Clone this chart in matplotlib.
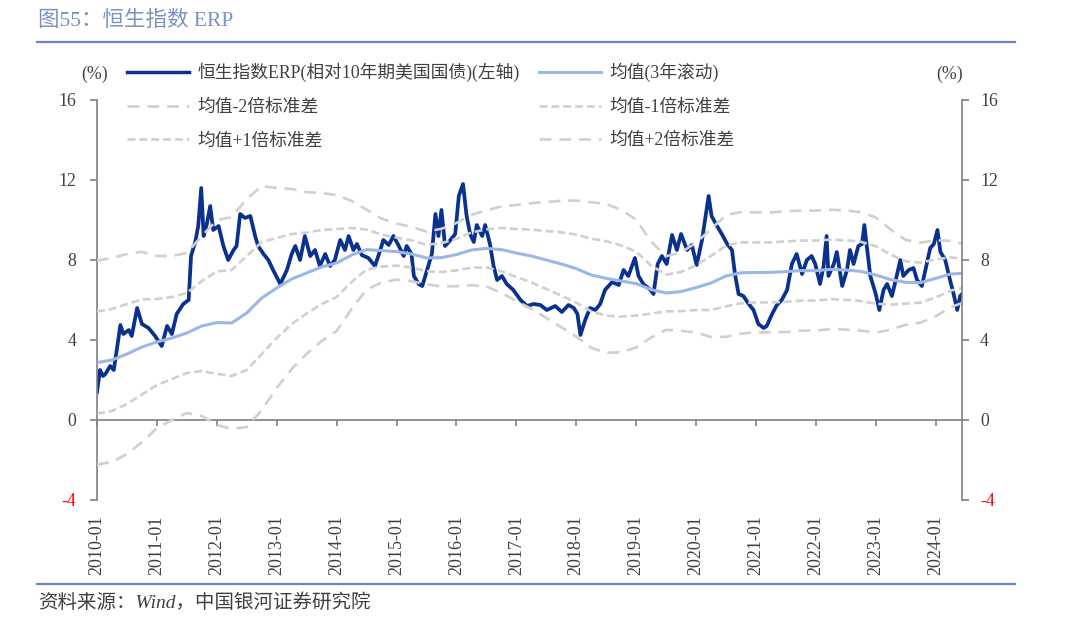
import matplotlib
matplotlib.use("Agg")
import matplotlib.pyplot as plt
from matplotlib.lines import Line2D

plt.rcParams['font.family'] = ['Liberation Serif', 'Noto Sans CJK SC']

# ERP vs 10Y US treasury (decimal years, %)
erp_t = [2010.00, 2010.05, 2010.10, 2010.14, 2010.22, 2010.28, 2010.33, 2010.39, 2010.44, 2010.53,
         2010.58, 2010.67, 2010.75, 2010.86, 2010.97, 2011.08, 2011.17, 2011.25, 2011.33, 2011.44,
         2011.53, 2011.57, 2011.64, 2011.69, 2011.74, 2011.78, 2011.83, 2011.89, 2011.94, 2012.03,
         2012.11, 2012.19, 2012.28, 2012.33, 2012.39, 2012.47, 2012.56, 2012.64, 2012.69, 2012.78,
         2012.86, 2012.94, 2013.06, 2013.17, 2013.25, 2013.31, 2013.39, 2013.47, 2013.56, 2013.64,
         2013.72, 2013.81, 2013.89, 2013.97, 2014.06, 2014.14, 2014.20, 2014.28, 2014.34, 2014.42,
         2014.53, 2014.64, 2014.73, 2014.78, 2014.87, 2014.95, 2015.03, 2015.12, 2015.17, 2015.25,
         2015.29, 2015.37, 2015.43, 2015.51, 2015.59, 2015.65, 2015.70, 2015.75, 2015.81, 2015.90,
         2015.98, 2016.04, 2016.11, 2016.17, 2016.23, 2016.29, 2016.34, 2016.43, 2016.48, 2016.56,
         2016.62, 2016.68, 2016.76, 2016.84, 2016.95, 2017.07, 2017.18, 2017.29, 2017.40, 2017.51,
         2017.65, 2017.76, 2017.87, 2017.96, 2018.02, 2018.07, 2018.15, 2018.23, 2018.32, 2018.40,
         2018.48, 2018.60, 2018.71, 2018.79, 2018.87, 2018.98, 2019.04, 2019.12, 2019.24, 2019.29,
         2019.36, 2019.43, 2019.51, 2019.60, 2019.68, 2019.75, 2019.85, 2019.93, 2020.01, 2020.10,
         2020.16, 2020.21, 2020.26, 2020.35, 2020.43, 2020.52, 2020.60, 2020.65, 2020.71, 2020.79,
         2020.88, 2020.96, 2021.04, 2021.13, 2021.18, 2021.27, 2021.35, 2021.43, 2021.52, 2021.60,
         2021.68, 2021.77, 2021.85, 2021.93, 2021.99, 2022.07, 2022.13, 2022.18, 2022.21, 2022.30,
         2022.35, 2022.44, 2022.52, 2022.57, 2022.63, 2022.71, 2022.77, 2022.81, 2022.85, 2022.91,
         2023.00, 2023.06, 2023.13, 2023.19, 2023.27, 2023.35, 2023.41, 2023.46, 2023.55, 2023.63,
         2023.69, 2023.77, 2023.85, 2023.91, 2023.97, 2024.03, 2024.08, 2024.16, 2024.24, 2024.30,
         2024.36, 2024.41, 2024.44]
erp_v = [1.4, 2.5, 2.2, 2.3, 2.7, 2.5, 3.5, 4.75, 4.3, 4.5,
         4.2, 5.6, 4.8, 4.6, 4.2, 3.7, 4.7, 4.3, 5.3, 5.8,
         6.0, 8.2, 8.9, 9.7, 11.6, 9.2, 9.75, 10.7, 9.5, 9.7,
         8.7, 8.0, 8.5, 8.7, 10.3, 10.1, 10.2, 9.2, 8.7, 8.3,
         8.0, 7.5, 6.8, 7.5, 8.3, 8.7, 8.0, 9.2, 8.2, 8.5,
         7.7, 8.3, 7.7, 8.0, 9.0, 8.5, 9.2, 8.5, 8.8, 8.25,
         8.1, 7.7, 8.5, 9.0, 8.75, 9.2, 8.75, 8.2, 8.7, 8.3,
         7.2, 6.8, 6.7, 7.5, 8.3, 10.3, 9.2, 10.5, 8.7, 9.0,
         9.3, 11.2, 11.8, 10.2, 9.3, 8.9, 9.75, 9.2, 9.75, 8.8,
         7.7, 7.0, 7.2, 6.8, 6.5, 6.0, 5.7, 5.8, 5.75, 5.5,
         5.7, 5.4, 5.75, 5.6, 5.3, 4.25, 5.0, 5.6, 5.5, 5.8,
         6.5, 6.9, 6.75, 7.5, 7.2, 8.1, 7.2, 6.8, 6.5, 6.3,
         7.8, 8.2, 7.8, 9.25, 8.5, 9.3, 8.5, 8.75, 7.75, 9.0,
         10.2, 11.2, 10.2, 9.7, 9.3, 8.8, 8.5, 7.3, 6.3, 6.2,
         5.8, 5.5, 4.8, 4.6, 4.7, 5.3, 5.75, 6.0, 6.5, 7.8,
         8.3, 7.3, 8.0, 8.2, 7.8, 6.8, 7.7, 9.2, 7.2, 7.8,
         8.4, 6.7, 7.5, 8.5, 7.8, 8.7, 8.8, 9.75, 8.7, 7.2,
         6.3, 5.5, 6.5, 6.8, 6.2, 7.2, 8.0, 7.2, 7.5, 7.6,
         7.0, 6.7, 7.8, 8.6, 8.8, 9.5, 8.4, 8.0, 7.0, 6.3,
         5.5, 6.2, 6.3]

# 3-year rolling mean and std, quarterly readings
q_t = [2010.00, 2010.25, 2010.50, 2010.75, 2011.00, 2011.25, 2011.50, 2011.75,
       2012.00, 2012.25, 2012.50, 2012.75, 2013.00, 2013.25, 2013.50, 2013.75,
       2014.00, 2014.25, 2014.50, 2014.75, 2015.00, 2015.25, 2015.50, 2015.75,
       2016.00, 2016.25, 2016.50, 2016.75, 2017.00, 2017.25, 2017.50, 2017.75,
       2018.00, 2018.25, 2018.50, 2018.75, 2019.00, 2019.25, 2019.50, 2019.75,
       2020.00, 2020.25, 2020.50, 2020.75, 2021.00, 2021.25, 2021.50, 2021.75,
       2022.00, 2022.25, 2022.50, 2022.75, 2023.00, 2023.25, 2023.50, 2023.75,
       2024.00, 2024.25, 2024.44]
mean_v = [2.87, 3.0, 3.3, 3.65, 3.9, 4.1, 4.35, 4.7,
          4.87, 4.85, 5.35, 6.1, 6.6, 7.05, 7.35, 7.65,
          7.85, 8.25, 8.52, 8.47, 8.42, 8.3, 8.1, 8.12,
          8.27, 8.5, 8.58, 8.52, 8.35, 8.2, 8.0, 7.8,
          7.57, 7.25, 7.08, 6.95, 6.82, 6.52, 6.35, 6.42,
          6.62, 6.85, 7.2, 7.36, 7.38, 7.38, 7.42, 7.47,
          7.47, 7.53, 7.5, 7.43, 7.25, 7.02, 6.88, 6.87,
          7.08, 7.3, 7.33]
std_v = [2.55, 2.55, 2.5, 2.38, 2.15, 2.05, 2.0, 2.25,
         2.56, 2.65, 2.85, 2.8, 2.5, 2.25, 2.02, 1.85,
         1.7, 1.35, 1.0, 0.8, 0.7, 0.68, 0.66, 0.72,
         0.79, 0.88, 0.95, 1.08, 1.2, 1.32, 1.45, 1.58,
         1.7, 1.82, 1.86, 1.78, 1.6, 1.2, 0.92, 0.98,
         1.12, 1.35, 1.52, 1.52, 1.5, 1.5, 1.51, 1.5,
         1.5, 1.49, 1.49, 1.48, 1.44, 1.25, 1.06, 1.0,
         0.95, 0.83, 0.74]

years = list(range(2010, 2025))
year_labels = [f"{y}-01" for y in years]
yticks = [-4, 0, 4, 8, 12, 16]

lo2 = [m - 2 * s for m, s in zip(mean_v, std_v)]
lo1 = [m - s for m, s in zip(mean_v, std_v)]
hi1 = [m + s for m, s in zip(mean_v, std_v)]
hi2 = [m + 2 * s for m, s in zip(mean_v, std_v)]

W, H = 1078, 626
erp_c = '#0B318F'
mean_c = '#9DB7E5'
band_c = '#D0D0D0'
axis_c = '#808080'
text_c = '#404040'
head_c = '#6D84B9'
dash1 = (3, 1.5)
dash2 = (4.5, 3)
fs = 12.8

fig = plt.figure(figsize=(W / 100, H / 100), dpi=100)
ax = fig.add_axes([97 / W, 1 - 500 / H, (962 - 97) / W, 400 / H])

ax.plot(erp_t, erp_v, color=erp_c, lw=2.7, zorder=2, solid_joinstyle='round')
ax.plot(q_t, mean_v, color=mean_c, lw=2.2, zorder=3)
ax.plot(q_t, lo2, color=band_c, lw=1.9, dashes=dash2, zorder=4)
ax.plot(q_t, lo1, color=band_c, lw=1.9, dashes=dash1, zorder=4)
ax.plot(q_t, hi1, color=band_c, lw=1.9, dashes=dash1, zorder=4)
ax.plot(q_t, hi2, color=band_c, lw=1.9, dashes=dash2, zorder=4)

ax.set_xlim(2010.0, 2024.44)
ax.set_ylim(-4, 16)

for side in ['top', 'right']:
    ax.spines[side].set_visible(False)
ax.spines['left'].set_color(axis_c)
ax.spines['left'].set_linewidth(1.2)
ax.spines['bottom'].set_position(('data', 0))
ax.spines['bottom'].set_color(axis_c)
ax.spines['bottom'].set_linewidth(1.2)

ax.set_xticks(years)
ax.set_xticklabels(year_labels, rotation=90, fontsize=13, color=text_c)
ax.tick_params(axis='x', direction='out', length=4.5, width=1.2, color=axis_c, pad=64)

ax.set_yticks(yticks)
ax.set_yticklabels([str(v) for v in yticks], fontsize=fs, color=text_c)
ax.tick_params(axis='y', direction='out', length=5, width=1.2, color=axis_c, pad=10)

ax2 = ax.twinx()
ax2.set_ylim(-4, 16)
ax2.set_yticks(yticks)
ax2.set_yticklabels([str(v) for v in yticks], fontsize=fs, color=text_c)
ax2.tick_params(axis='y', direction='out', length=5, width=1.2, color=axis_c, pad=8)
for side in ['top', 'left', 'bottom']:
    ax2.spines[side].set_visible(False)
ax2.spines['right'].set_color(axis_c)
ax2.spines['right'].set_linewidth(1.2)

# negative tick label in red, like the source
for a in (ax, ax2):
    for tk in a.yaxis.get_major_ticks():
        if tk.get_loc() < 0:
            tk.label1.set_color('#FF0000')
            tk.label2.set_color('#FF0000')

fig.text(95 / W, 1 - 74 / H, '(%)', ha='center', va='center', fontsize=fs, color=text_c)
fig.text(950 / W, 1 - 74 / H, '(%)', ha='center', va='center', fontsize=fs, color=text_c)

h_erp = Line2D([], [], color=erp_c, lw=2.5)
h_mean = Line2D([], [], color=mean_c, lw=2.2)
h_lo2 = Line2D([], [], color=band_c, lw=1.9, dashes=dash2)
h_lo1 = Line2D([], [], color=band_c, lw=1.9, dashes=dash1)
h_hi1 = Line2D([], [], color=band_c, lw=1.9, dashes=dash1)
h_hi2 = Line2D([], [], color=band_c, lw=1.9, dashes=dash2)

leg_kw = dict(loc='upper left', frameon=False, fontsize=fs, handlelength=3.5,
              handletextpad=0.45, labelspacing=0.93, borderpad=0, borderaxespad=0,
              labelcolor=text_c)
leg1 = fig.legend([h_erp, h_lo2, h_hi1],
                  ['恒生指数ERP(相对10年期美国国债)(左轴)', '均值-2倍标准差', '均值+1倍标准差'],
                  bbox_to_anchor=(127 / W, 1 - 63 / H), **leg_kw)
leg2 = fig.legend([h_mean, h_lo1, h_hi2],
                  ['均值(3年滚动)', '均值-1倍标准差', '均值+2倍标准差'],
                  bbox_to_anchor=(539 / W, 1 - 63 / H), **leg_kw)

# header and footer
fig.text(38 / W, 1 - 21 / H, '图55：恒生指数 ERP', ha='left', va='center', fontsize=15.5, color='#7B91C4')
fig.add_artist(Line2D([37 / W, 1015 / W], [1 - 42 / H, 1 - 42 / H], color=head_c, lw=1.6))
fig.add_artist(Line2D([37 / W, 1015 / W], [1 - 584 / H, 1 - 584 / H], color=head_c, lw=1.6))
fig.text(38 / W, 1 - 603 / H, '资料来源：Wind，中国银河证券研究院', ha='left', va='center',
         fontsize=14, color=text_c, style='italic')

fig.savefig('out.png', dpi=100)
